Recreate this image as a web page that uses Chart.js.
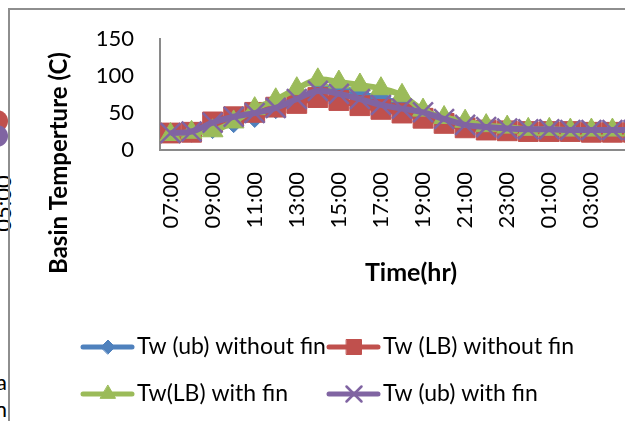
<!DOCTYPE html>
<html>
<head>
<meta charset="utf-8">
<script src="https://cdn.jsdelivr.net/npm/chart.js@4/dist/chart.umd.min.js"></script>
<style>
  html, body { margin: 0; padding: 0; background: #fff; }
  #page { position: relative; width: 637px; height: 421px; overflow: hidden; }
  #clip { position: absolute; left: 0; top: 0; width: 625px; height: 421px; overflow: hidden; }
  #frame { position: absolute; left: 8px; top: 8px; width: 800px; height: 600px;
           border-left: 2px solid #8e8e8e; border-top: 2px solid #8e8e8e; }
  #chartBox { position: absolute; left: 0; top: 0; width: 684px; height: 421px; }
  .edge { position: absolute; font-family: Lato, sans-serif; font-size: 22px; color: #000; white-space: nowrap; }
  .dot { position: absolute; border-radius: 50%; }
</style>
</head>
<body>
<div id="page">
  <!-- bits of the neighbouring figure -->
  <div class="dot" style="left:-14px; top:110px; width:22px; height:22px; background:#C0504D;"></div>
  <div class="dot" style="left:-14px; top:125px; width:22px; height:22px; background:#8064A2;"></div>
  <div class="edge" style="left:-26px; top:190px; transform: rotate(-90deg);">05:00</div>
  <div class="edge" style="right:630px; top:368px;">a</div>
  <div class="edge" style="right:630px; top:395px;">n</div>

  <div id="clip">
    <div id="frame"></div>
    <div id="chartBox"><canvas id="chart"></canvas></div>
  </div>
</div>
<script>
const hours = ['07:00', '08:00', '09:00', '10:00', '11:00', '12:00', '13:00', '14:00', '15:00', '16:00', '17:00', '18:00',
               '19:00', '20:00', '21:00', '22:00', '23:00', '00:00', '01:00', '02:00', '03:00', '04:00', '05:00'];

const ubWithoutFin = [23, 24, 29, 37, 44, 56, 68, 80, 85, 76, 70, 62, 52, 42, 34, 30, 28, 27, 27, 26, 26, 26, 26];
const lbWithoutFin = [23, 24, 38, 45, 51, 58, 63, 71, 67, 60, 55, 50, 43, 36, 30, 27, 26, 25, 25, 25, 24, 24, 24];
const lbWithFin    = [21, 24, 26, 38, 56, 68, 83, 95, 92, 88, 83, 74, 54, 44, 39, 33, 31, 28, 28, 27, 27, 27, 27];
const ubWithFin    = [23, 25, 37, 45, 50, 57, 69, 80, 76, 69, 61, 56, 51, 42, 34, 31, 29, 28, 28, 27, 27, 27, 27];

const FONT = 'Lato, sans-serif';

function series(label, values, color, style, radius, legendRadius, order) {
    return {
        label: label,
        data: values,
        borderColor: color,
        backgroundColor: color,
        borderWidth: 6,
        tension: 0.4,
        pointStyle: style,
        pointRadius: radius,
        pointBorderWidth: style === 'crossRot' ? 2.5 : 1,
        pointBorderColor: color,
        pointBackgroundColor: color,
        legendRadius: legendRadius,
        order: order
    };
}

// Excel-like legend: 2x2 grid with line + marker swatches, plus both axis titles
const excelDecor = {
    id: 'excelDecor',
    afterDraw(chart) {
        const ctx = chart.ctx;
        ctx.save();
        ctx.fillStyle = '#000';
        ctx.textBaseline = 'middle';
        ctx.textAlign = 'center';

        ctx.font = 'bold 25px ' + FONT;
        ctx.fillText('Time(hr)', 411, 273);
        ctx.save();
        ctx.translate(59, 163);
        ctx.rotate(-Math.PI / 2);
        ctx.font = 'bold 24px ' + FONT;
        ctx.fillText('Basin Temperture (C)', 0, 0);
        ctx.restore();

        const cols = [83, 329];
        const rows = [347, 394];
        ctx.font = '23px ' + FONT;
        ctx.textAlign = 'left';
        chart.data.datasets.forEach((ds, i) => {
            const x = cols[i % 2];
            const y = rows[Math.floor(i / 2)];
            ctx.strokeStyle = ds.borderColor;
            ctx.lineWidth = 5;
            ctx.lineCap = 'round';
            ctx.beginPath();
            ctx.moveTo(x, y);
            ctx.lineTo(x + 49, y);
            ctx.stroke();
            ctx.fillStyle = ds.backgroundColor;
            ctx.lineWidth = ds.pointBorderWidth;
            Chart.helpers.drawPoint(ctx, {
                pointStyle: ds.pointStyle,
                radius: ds.legendRadius,
                borderWidth: ds.pointBorderWidth,
                rotation: 0
            }, x + 25, y);
            ctx.fillStyle = '#000';
            ctx.fillText(ds.label, x + 54, y);
        });
        ctx.restore();
    }
};

new Chart(document.getElementById('chart'), {
    type: 'line',
    data: {
        labels: hours,
        datasets: [
            series('Tw (ub) without fin', ubWithoutFin, '#4F81BD', 'rectRot', 10, 7, 3),
            series('Tw (LB) without fin', lbWithoutFin, '#C0504D', 'rect', 14, 10.6, 2),
            series('Tw(LB) with fin', lbWithFin, '#9BBB59', 'triangle', 12, 8.7, 1),
            series('Tw (ub) with fin', ubWithFin, '#8064A2', 'crossRot', 14, 10.6, 0)
        ]
    },
    options: {
        responsive: true,
        maintainAspectRatio: false,
        animation: false,
        events: [],
        layout: { padding: { left: 0, top: 38, right: 40, bottom: 0 } },
        plugins: {
            legend: { display: false },
            tooltip: { enabled: false }
        },
        scales: {
            x: {
                offset: true,
                grid: { display: false, drawTicks: false },
                border: { display: true, color: '#8a8a8a', width: 2 },
                ticks: {
                    autoSkip: false,
                    minRotation: 90,
                    maxRotation: 90,
                    padding: 22,
                    color: '#000',
                    font: { family: FONT, size: 22 },
                    callback: (value, index) => index % 2 === 0 ? hours[index] : ''
                },
                afterFit: scale => { scale.height = 271; }
            },
            y: {
                min: 0,
                max: 150,
                grid: { display: false, drawTicks: false },
                border: { display: true, color: '#8a8a8a', width: 2 },
                ticks: {
                    stepSize: 50,
                    padding: 26,
                    color: '#000',
                    font: { family: FONT, size: 22 }
                },
                afterFit: scale => { scale.width = 160; }
            }
        }
    },
    plugins: [excelDecor]
});
</script>
</body>
</html>
